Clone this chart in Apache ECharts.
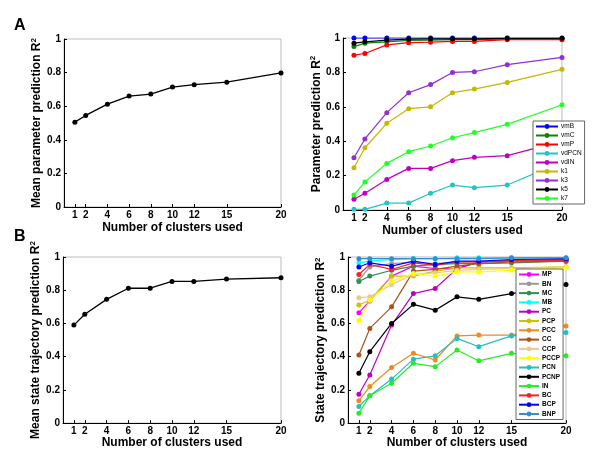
<!DOCTYPE html>
<html><head><meta charset="utf-8">
<script src="https://cdn.jsdelivr.net/npm/echarts@6/dist/echarts.min.js"></script>
<style>html,body{margin:0;padding:0;background:#fff}#c{width:600px;height:450px}</style>
</head><body><div id="c"></div>
<script>
const clusters = [1, 2, 4, 6, 8, 10, 12, 15, 20];
const yTicks = [0, 0.2, 0.4, 0.6, 0.8, 1];

const meanParam = [0.505, 0.545, 0.612, 0.66, 0.672, 0.714, 0.728, 0.743, 0.798];
const meanState = [0.59, 0.655, 0.745, 0.812, 0.812, 0.853, 0.853, 0.867, 0.875];

const paramNames = ['vmB', 'vmC', 'vmP', 'vdPCN', 'vdIN', 'k1', 'k3', 'k5', 'k7'];
const paramColors = ['#0000ff', '#108010', '#ff0000', '#22c4c4', '#c000c0', '#c4b800', '#9030d0', '#000000', '#22ff22'];
const vmB   = [1.0, 1.0, 1.0, 1.0, 1.0, 1.0, 1.0, 1.0, 1.0];
const vmC   = [0.95, 0.97, 0.978, 0.986, 0.988, 0.99, 0.99, 0.995, 0.995];
const vmP   = [0.90, 0.91, 0.96, 0.973, 0.976, 0.98, 0.98, 0.99, 0.99];
const vdPCN = [0.004, 0.004, 0.04, 0.04, 0.097, 0.145, 0.13, 0.145, 0.28];
const vdIN  = [0.062, 0.097, 0.178, 0.242, 0.242, 0.287, 0.306, 0.316, 0.40];
const k1    = [0.246, 0.362, 0.504, 0.589, 0.60, 0.682, 0.703, 0.742, 0.818];
const k3    = [0.304, 0.413, 0.566, 0.682, 0.729, 0.80, 0.804, 0.845, 0.887];
const k5    = [0.97, 0.978, 0.988, 0.994, 0.995, 0.995, 0.995, 0.998, 0.998];
const k7    = [0.087, 0.163, 0.271, 0.339, 0.372, 0.42, 0.45, 0.498, 0.612];
const paramValues = [vmB, vmC, vmP, vdPCN, vdIN, k1, k3, k5, k7];

const stateNames = ['MP', 'BN', 'MC', 'MB', 'PC', 'PCP', 'PCC', 'CC', 'CCP', 'PCCP', 'PCN', 'PCNP', 'IN', 'BC', 'BCP', 'BNP'];
const stateColors = ['#ff00ff', '#9a9a9a', '#2f9050', '#00ffff', '#c000c0', '#c8c400', '#f08a1c', '#a8561e', '#eec890', '#ffff00', '#22c0c0', '#000000', '#22ee22', '#ff2020', '#0000ff', '#2f8fd0'];
const MP   = [0.665, 0.735, 0.885, 0.945, 0.93, 0.93, 0.97, 0.975, 0.98];
const BN   = [0.86, 0.94, 0.96, 0.97, 0.96, 0.97, 0.97, 0.975, 0.98];
const MC   = [0.853, 0.885, 0.92, 0.945, 0.955, 0.96, 0.96, 0.965, 0.975];
const MB   = [0.965, 0.975, 0.985, 0.99, 0.99, 0.995, 0.995, 0.995, 0.995];
const PC   = [0.174, 0.29, 0.59, 0.78, 0.81, 0.93, 0.97, 0.98, 0.985];
const PCP  = [0.711, 0.74, 0.885, 0.885, 0.915, 0.935, 0.935, 0.935, 0.94];
const PCC  = [0.135, 0.22, 0.335, 0.42, 0.38, 0.525, 0.53, 0.53, 0.585];
const CC   = [0.41, 0.57, 0.70, 0.915, 0.925, 0.945, 0.96, 0.97, 0.975];
const CCP  = [0.755, 0.76, 0.835, 0.895, 0.905, 0.92, 0.925, 0.93, 0.94];
const PCCP = [0.617, 0.74, 0.855, 0.90, 0.885, 0.91, 0.91, 0.92, 0.935];
const PCN  = [0.10, 0.165, 0.265, 0.385, 0.405, 0.51, 0.46, 0.525, 0.545];
const PCNP = [0.30, 0.43, 0.60, 0.715, 0.68, 0.76, 0.745, 0.78, 0.835];
const IN   = [0.06, 0.165, 0.24, 0.36, 0.34, 0.44, 0.375, 0.42, 0.405];
const BC   = [0.895, 0.955, 0.925, 0.965, 0.95, 0.97, 0.97, 0.98, 0.98];
const BCP  = [0.94, 0.965, 0.945, 0.975, 0.955, 0.975, 0.975, 0.985, 0.99];
const BNP  = [0.99, 0.99, 0.99, 0.99, 0.99, 0.99, 0.99, 0.995, 0.995];
const stateValues = [MP, BN, MC, MB, PC, PCP, PCC, CC, CCP, PCCP, PCN, PCNP, IN, BC, BCP, BNP];

const xName = 'Number of clusters used';
const yNames = ['Mean parameter prediction R', 'Parameter prediction R', 'Mean state trajectory prediction R', 'State trajectory prediction R'];

const FONT = 'Liberation Sans, Arial, sans-serif';
const pairs = vals => clusters.map((c, i) => [c, vals[i]]);

const grids = [
  {left: 64, top: 39, width: 217, height: 168},
  {left: 343, top: 38, width: 219, height: 172},
  {left: 63, top: 257, width: 218, height: 169},
  {left: 348, top: 257, width: 218, height: 168}
].map(g => Object.assign({show: true, borderColor: '#bdbdbd', borderWidth: 1, backgroundColor: 'transparent'}, g));

const xAxes = grids.map((g, i) => ({
  type: 'value', gridIndex: i, min: 0, max: 20,
  name: xName, nameLocation: 'middle', nameGap: i < 2 ? 15 : 10,
  nameTextStyle: {fontFamily: FONT, fontWeight: 'bold', fontSize: 12, color: '#000'},
  axisLine: {show: true, lineStyle: {color: '#000', width: 1}},
  axisTick: {show: true, inside: true, length: 3, customValues: clusters, lineStyle: {color: '#000'}},
  axisLabel: {customValues: clusters, fontFamily: FONT, fontWeight: 'bold', fontSize: 10, color: '#000', margin: 3},
  splitLine: {show: false}
}));

const yAxes = grids.map((g, i) => ({
  type: 'value', gridIndex: i, min: 0, max: 1, interval: 0.2,
  name: yNames[i] + '{s|2}', nameLocation: 'middle', nameGap: i === 1 ? 18 : 20, nameRotate: 90,
  nameTextStyle: {fontFamily: FONT, fontWeight: 'bold', fontSize: 12, color: '#000',
    rich: {s: {fontFamily: FONT, fontWeight: 'bold', fontSize: 8, color: '#000', verticalAlign: 'top', padding: [0, 0, 6, 0]}}},
  axisLine: {show: true, lineStyle: {color: '#000', width: 1}},
  axisTick: {show: true, inside: true, length: 3, lineStyle: {color: '#000'}},
  axisLabel: {fontFamily: FONT, fontWeight: 'bold', fontSize: 10, color: '#000', margin: 3},
  splitLine: {show: false}
}));

const series = [];
const mk = (name, vals, color, gi, lw) => ({
  name, type: 'line', xAxisIndex: gi, yAxisIndex: gi, data: pairs(vals),
  symbol: 'circle', symbolSize: 5, color,
  lineStyle: {color, width: lw}, itemStyle: {color},
  emphasis: {disabled: true}, animation: false
});
series.push(mk('meanParam', meanParam, '#000', 0, 1.3));
paramNames.forEach((n, i) => series.push(mk(n, paramValues[i], paramColors[i], 1, 1.2)));
series.push(mk('meanState', meanState, '#000', 2, 1.3));
stateNames.forEach((n, i) => series.push(mk(n, stateValues[i], stateColors[i], 3, 1.2)));

const chart = echarts.init(document.getElementById('c'), null, {renderer: 'canvas'});
chart.setOption({
  animation: false,
  backgroundColor: '#fff',
  title: [
    {text: 'A', left: 9, top: 13, textStyle: {fontFamily: FONT, fontWeight: 'bold', fontSize: 16, color: '#000'}},
    {text: 'B', left: 9, top: 224, textStyle: {fontFamily: FONT, fontWeight: 'bold', fontSize: 16, color: '#000'}}
  ],
  grid: grids, xAxis: xAxes, yAxis: yAxes,
  legend: [
    {data: paramNames, orient: 'vertical', left: 533, top: 121, itemWidth: 22, itemHeight: 6, itemGap: 2,
     padding: [2, 3, 2, 2], borderColor: '#666', borderWidth: 1, backgroundColor: '#fff', z: 10,
     textStyle: {fontFamily: FONT, fontSize: 6.5, color: '#000', padding: [0, 0, 0, -2]}, selectedMode: false},
    {data: stateNames, orient: 'vertical', left: 516, top: 269, itemWidth: 20, itemHeight: 6, itemGap: 2.3,
     padding: [2, 3, 2, 2], borderColor: '#666', borderWidth: 1, backgroundColor: '#fff', z: 10,
     textStyle: {fontFamily: FONT, fontSize: 6.5, fontWeight: 'bold', color: '#000', padding: [0, 0, 0, -2]}, selectedMode: false}
  ],
  series
});
</script></body></html>
